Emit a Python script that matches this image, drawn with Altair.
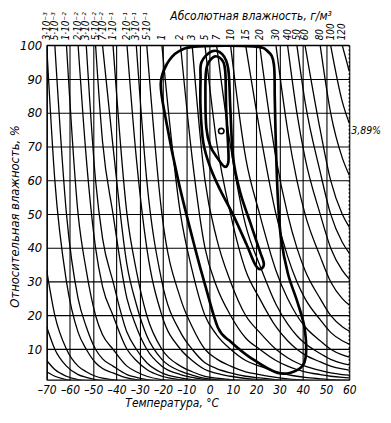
import altair as alt
import pandas as pd

# ---- data ----
# absolute humidity isolines (g/m^3) labelled along the top, and the temperature
# (deg C) at which each one meets the 100 % line
abs_values = [0.003, 0.005, 0.01, 0.02, 0.03, 0.05, 0.07, 0.1, 0.2, 0.3, 0.5,
              1, 2, 3, 5, 7, 10, 15, 20, 30, 40, 50, 60, 80, 100, 120]
abs_labels = ["3·10⁻³", "5·10⁻³", "1·10⁻²", "2·10⁻²", "3·10⁻²", "5·10⁻²", "7·10⁻²",
              "1·10⁻¹", "2·10⁻¹", "3·10⁻¹", "5·10⁻¹", "1", "2", "3", "5", "7", "10",
              "15", "20", "30", "40", "50", "60", "80", "100", "120"]
sat_temps = [-70, -66.5, -61.5, -56.5, -53, -49, -46, -41.5, -35.5, -31.5, -27,
             -20.5, -12.5, -7.5, -2, 3, 9, 15.5, 21.5, 28.5, 33.5, 37.5, 41, 47.5, 52, 57]
# saturation value read at the right edge of the grid
edge_temp = 60
edge_sat = 130
# unlabelled isolines that enter from the left edge
extra_values = [0.0001, 0.0002, 0.0005, 0.001]

# frequency contours (temperature, relative humidity)
outer_T = [-21.0, -18.9, -13.3, -6.1, -1.8, 3.7, 9.3, 17.8, 29.3, 37.8, 41.2, 40.8, 37.8,
           33.6, 30.6, 29.3, 28.5, 28.0, 27.6, 25.0, 18.7, -4.8, -13.3, -18.4]
outer_RH = [88.6, 78.4, 59.4, 39.5, 28.7, 16.2, 12.1, 7.4, 3.0, 3.9, 7.4, 16.2, 23.8,
            32.5, 43.3, 55.0, 69.6, 84.2, 94.4, 98.2, 99.7, 99.7, 98.2, 94.4]
middle_T = [-3.5, 0.8, 5.4, 8.0, 8.9, 10.1, 13.1, 17.8, 21.6, 23.3, 21.6, 19.5, 15.7,
            10.1, 4.6, 0.3, -2.7, -3.9, -3.9]
middle_RH = [95.0, 98.2, 97.4, 93.0, 81.3, 66.7, 56.5, 46.8, 39.0, 35.2, 33.7, 35.2, 41.3,
             49.8, 57.1, 63.8, 71.1, 81.3, 90.1]
inner_T = [-1.4, 1.6, 5.0, 6.7, 7.1, 8.0, 8.0, 6.3, 3.3, 0.3, -1.4, -1.8]
inner_RH = [93.0, 96.5, 95.9, 92.4, 81.3, 69.6, 65.2, 64.1, 66.7, 70.2, 75.5, 84.2]

mode_T = [5.0]
mode_RH = [74.6]
mode_label = ["3,89%"]

x_ticks = [-70, -60, -50, -40, -30, -20, -10, 0, 10, 20, 30, 40, 50, 60]
y_ticks = [10, 20, 30, 40, 50, 60, 70, 80, 90, 100]

# ---- tables ----
grid_T = sat_temps + [edge_temp]
grid_sat = abs_values + [edge_sat]
rows = []
for k, v in enumerate(extra_values + abs_values):
    for t, s in zip(grid_T, grid_sat):
        if s >= v:
            rows.append({"curve": k, "T": t, "RH": 100.0 * v / s})
curves_df = pd.DataFrame(rows)

labels_df = pd.DataFrame({"T": sat_temps, "label": abs_labels})

cont_rows = []
for name, ts, rs in [("outer", outer_T, outer_RH), ("middle", middle_T, middle_RH),
                     ("inner", inner_T, inner_RH)]:
    for i, (t, r) in enumerate(zip(ts, rs)):
        cont_rows.append({"contour": name, "ord": i, "T": t, "RH": r})
cont_df = pd.DataFrame(cont_rows)

mode_df = pd.DataFrame({"T": mode_T, "RH": mode_RH, "label": mode_label})

# ---- chart ----
W, H = 305, 337
FONT = "DejaVu Sans Condensed"
xs = alt.Scale(domain=[-70, 60], nice=False, zero=False)
ys = alt.Scale(domain=[1, 100], nice=False, zero=False)

x_axis = alt.Axis(values=x_ticks, grid=True, gridColor="black", gridWidth=1.1, gridOpacity=1,
                  ticks=False, domainColor="black", domainWidth=1.3,
                  labelFont=FONT, labelFontSize=12, labelFontStyle="italic", labelColor="black",
                  labelPadding=5, labelFlush=False, labelOverlap=False, labelBaseline="top",
                  labelExpr="datum.value < 0 ? '–' + abs(datum.value) : '' + datum.value",
                  title="Температура, °C", titleFont=FONT, titleFontSize=12,
                  titleFontStyle="italic", titleFontWeight="normal", titleColor="black",
                  titleX=126, titleY=23, titleBaseline="middle")
y_axis = alt.Axis(values=y_ticks, grid=True, gridColor="black", gridWidth=1.1, gridOpacity=1,
                  ticks=False, domainColor="black", domainWidth=1.3,
                  labelFont=FONT, labelFontSize=13, labelFontStyle="italic", labelColor="black",
                  labelPadding=5, labelFlush=False, labelOverlap=False,
                  title="Относительная влажность, %", titleFont=FONT, titleFontSize=13,
                  titleFontStyle="italic", titleFontWeight="normal", titleColor="black",
                  titleX=-32, titleY=172, titleBaseline="middle")

X = alt.X("T:Q", scale=xs, axis=x_axis)
Y = alt.Y("RH:Q", scale=ys, axis=y_axis)

curves = alt.Chart(curves_df).mark_line(
    color="black", strokeWidth=1.3, interpolate="monotone", clip=True
).encode(x=X, y=Y, detail="curve:N", order="T:Q")

contours = alt.Chart(cont_df).mark_line(
    color="black", strokeWidth=2.7, interpolate="cardinal-closed", clip=True
).encode(x=X, y=Y, detail="contour:N", order="ord:Q")

mode_pt = alt.Chart(mode_df).mark_point(
    shape="circle", size=30, fill="white", fillOpacity=1, stroke="black", strokeWidth=1.6
).encode(x=X, y=Y)

mode_txt = alt.Chart(mode_df).mark_text(
    font=FONT, fontSize=10.5, fontStyle="italic", align="left", baseline="middle", color="black"
).encode(x=alt.value(W + 2), y=Y, text="label:N")

top_labels = alt.Chart(labels_df).mark_text(
    font=FONT, fontSize=10, fontStyle="italic", angle=270, align="left",
    baseline="middle", color="black"
).encode(x=X, y=alt.value(-5), text="label:N")

top_title = alt.Chart(mode_df).mark_text(
    font=FONT, fontSize=12, fontStyle="italic", align="center", baseline="middle",
    color="black", text="Абсолютная влажность, г/м³"
).encode(x=alt.value(206), y=alt.value(-30))

top_rule = alt.Chart(mode_df).mark_rule(color="black", strokeWidth=1.3).encode(
    x=alt.value(0), x2=alt.value(W), y=alt.value(0))
right_rule = alt.Chart(mode_df).mark_rule(color="black", strokeWidth=1.2, strokeDash=[2, 2]).encode(
    x=alt.value(W), y=alt.value(0), y2=alt.value(H))

chart = alt.layer(
    curves, contours, mode_pt, mode_txt, top_labels, top_title, top_rule, right_rule
).properties(
    width=W, height=H,
    autosize=alt.AutoSizeParams(type="none"),
    padding={"left": 39, "top": 36, "right": 34, "bottom": 29},
).configure_view(stroke="transparent").configure_axis(labelOverlap=False)

chart.save("out.html", embed_options={"renderer": "svg", "actions": False})
